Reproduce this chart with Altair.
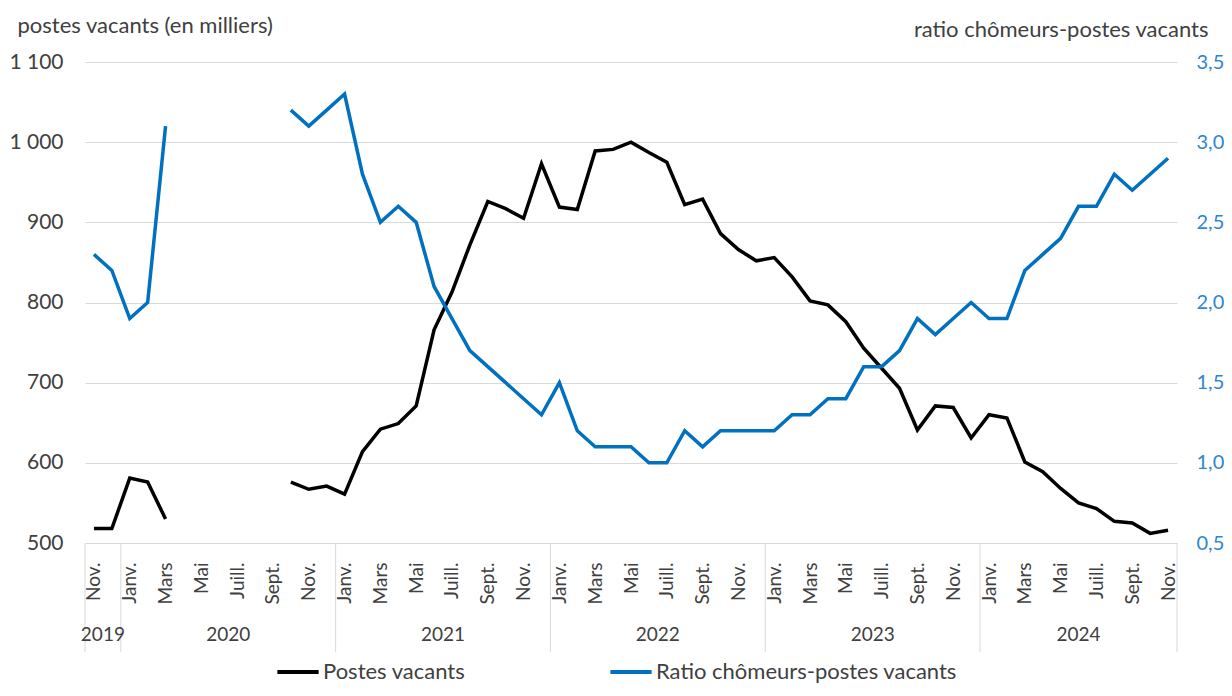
import altair as alt
import pandas as pd

# ---- data (Nov. 2019 -> Nov. 2024, monthly) ----
START_YEAR = 2019
START_MONTH = 10  # 0-based: November
MONTH_NAMES = ["Janv.", "Févr.", "Mars", "Avr.", "Mai", "Juin",
               "Juill.", "Août", "Sept.", "Oct.", "Nov.", "Déc."]
SERIES = ["Postes vacants", "Ratio chômeurs-postes vacants"]
COLORS = ["#000000", "#0070C0"]

postes = [518, 518, 581, 576, 530,
          None, None, None, None, None, None,
          576, 567, 571, 561, 614, 642, 649, 671, 766, 813, 872, 926, 917, 905, 973,
          919, 916, 989, 991, 1000, 987, 975, 922, 929, 886, 866, 852,
          856, 832, 802, 797, 776, 743, 718, 693, 641, 671, 669, 631,
          660, 656, 601, 589, 568, 550, 543, 527, 525, 512, 516]

ratio = [2.3, 2.2, 1.9, 2.0, 3.1,
         None, None, None, None, None, None,
         3.2, 3.1, 3.2, 3.3, 2.8, 2.5, 2.6, 2.5, 2.1, 1.9, 1.7, 1.6, 1.5, 1.4, 1.3,
         1.5, 1.2, 1.1, 1.1, 1.1, 1.0, 1.0, 1.2, 1.1, 1.2, 1.2, 1.2,
         1.2, 1.3, 1.3, 1.4, 1.4, 1.6, 1.6, 1.7, 1.9, 1.8, 1.9, 2.0,
         1.9, 1.9, 2.2, 2.3, 2.4, 2.6, 2.6, 2.8, 2.7, 2.8, 2.9]

LEFT_TICKS = [500, 600, 700, 800, 900, 1000, 1100]
RIGHT_TICKS = [0.5, 1.0, 1.5, 2.0, 2.5, 3.0, 3.5]

N = len(postes)
TEXT = "#404040"
GRID = "#D9D9D9"
BLUE_TXT = "#2E86D1"
FONT = "Lato"


def series_frame(values, name):
    rows, seg = [], 0
    prev_none = False
    for i, v in enumerate(values):
        if v is None:
            prev_none = True
            continue
        if prev_none:
            seg += 1
            prev_none = False
        rows.append({"i": i, "v": v, "seg": seg, "series": name})
    return pd.DataFrame(rows)


df_p = series_frame(postes, SERIES[0])
df_r = series_frame(ratio, SERIES[1])

# year boundaries (between Dec and Jan) and year label centres
bounds = [-0.5] + [i - 0.5 for i in range(N) if (START_MONTH + i) % 12 == 0] + [N - 0.5]
years = [str(START_YEAR + k) for k in range(len(bounds) - 1)]
df_b = pd.DataFrame({"i": bounds})
df_y = pd.DataFrame({"i": [(bounds[k] + bounds[k + 1]) / 2 for k in range(len(years))],
                     "year": years})

month_expr = "[" + ",".join("'" + m + "'" for m in MONTH_NAMES) + "][(datum.value + %d) %% 12]" % START_MONTH

xscale = alt.Scale(domain=[-0.5, N - 0.5], nice=False, zero=False)
x_enc = alt.X("i:Q", scale=xscale, title=None,
              axis=alt.Axis(values=list(range(0, N, 2)), labelExpr=month_expr,
                            labelAngle=270, grid=False, domain=False, ticks=False,
                            labelPadding=19, labelFontSize=19, labelColor=TEXT,
                            labelFont=FONT))

color_enc = alt.Color("series:N", title=None,
                      scale=alt.Scale(domain=SERIES, range=COLORS),
                      legend=alt.Legend(orient="none", legendX=190, legendY=587,
                                        direction="horizontal", symbolType="stroke",
                                        symbolSize=1700, symbolStrokeWidth=4,
                                        labelFontSize=22, labelColor=TEXT,
                                        labelOffset=2, columnPadding=136,
                                        labelLimit=500, labelFont=FONT))

rules = alt.Chart(df_b).mark_rule(color=GRID, strokeWidth=1).encode(
    x=x_enc, y=alt.value(481), y2=alt.value(590))

year_text = alt.Chart(df_y).mark_text(fontSize=19, color=TEXT, baseline="middle",
                                      font=FONT).encode(
    x=x_enc, y=alt.value(573), text="year:N")

line_p = alt.Chart(df_p).mark_line(strokeWidth=3.5).encode(
    x=x_enc,
    y=alt.Y("v:Q", scale=alt.Scale(domain=[500, 1100], nice=False, zero=False),
            axis=alt.Axis(values=LEFT_TICKS, grid=True, gridColor=GRID, domain=False,
                          ticks=False, labelPadding=22, labelFontSize=21,
                          labelColor=TEXT, labelFont=FONT,
                          labelExpr="replace(format(datum.value, ','), ',', ' ')",
                          title="postes vacants (en milliers)", titleAngle=0,
                          titleAlign="left", titleBaseline="middle", titleX=-68,
                          titleY=-37, titleFontSize=22, titleFontWeight="normal",
                          titleColor=TEXT, titleFont=FONT)),
    color=color_enc, detail="seg:N")

line_r = alt.Chart(df_r).mark_line(strokeWidth=3.5).encode(
    x=x_enc,
    y=alt.Y("v:Q", scale=alt.Scale(domain=[0.5, 3.5], nice=False, zero=False),
            axis=alt.Axis(orient="right", values=RIGHT_TICKS, grid=False, domain=False,
                          ticks=False, labelPadding=19, labelFontSize=20,
                          labelColor=BLUE_TXT, labelFont=FONT,
                          labelExpr="replace(format(datum.value, '.1f'), '.', ',')",
                          title="ratio chômeurs-postes vacants", titleAngle=0,
                          titleAlign="right", titleBaseline="middle", titleX=31,
                          titleY=-33, titleFontSize=22, titleFontWeight="normal",
                          titleColor=TEXT, titleFont=FONT)),
    color=color_enc, detail="seg:N")

chart = alt.layer(rules, year_text, line_p, line_r).resolve_scale(
    y="independent").properties(
    width=1092, height=481,
    autosize=alt.AutoSizeParams(type="none"),
    padding={"left": 77, "top": 54, "right": 47, "bottom": 145},
).configure(font=FONT).configure_view(stroke=None)

chart.save("out.html", embed_options={"renderer": "svg", "actions": False})
